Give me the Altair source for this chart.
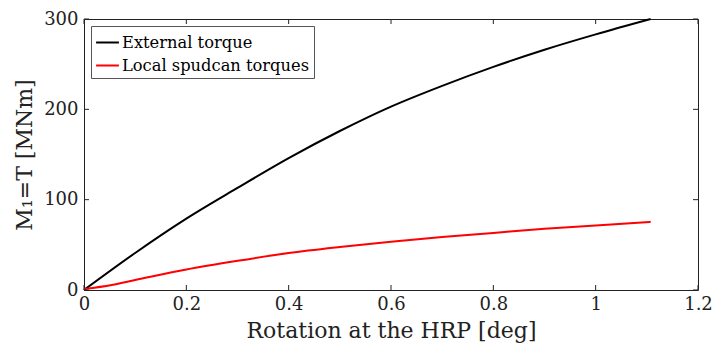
import altair as alt
import pandas as pd

ext_rotation = [0, 0.1, 0.2, 0.3, 0.4, 0.5, 0.6, 0.7, 0.8, 0.9, 1.0, 1.1075]
ext_torque = [0, 41, 79, 113, 146, 176, 203, 226, 247, 266, 283, 300]
loc_rotation = [0, 0.054, 0.1, 0.2, 0.3, 0.4, 0.5, 0.6, 0.7, 0.8, 0.9, 1.0, 1.1075]
loc_torque = [1, 5.6, 11, 22.7, 32.3, 40.9, 47.6, 53.5, 58.7, 63.2, 67.7, 71.4, 75.5]
series_names = ["External torque", "Local spudcan torques"]
series_colors = ["#000000", "#ff0000"]
x_ticks = [0, 0.2, 0.4, 0.6, 0.8, 1.0, 1.2]
y_ticks = [0, 100, 200, 300]

df = pd.DataFrame({
    "rot": ext_rotation + loc_rotation,
    "M": ext_torque + loc_torque,
    "series": [series_names[0]] * len(ext_rotation) + [series_names[1]] * len(loc_rotation),
})
xt = pd.DataFrame({"rot": x_ticks})
yt = pd.DataFrame({"M": y_ticks})

FONT = "DejaVu Serif, Liberation Serif, serif"
xscale = alt.Scale(domain=[0, 1.2], nice=False, zero=False)
yscale = alt.Scale(domain=[0, 300], nice=False)
W, H = 614, 271
TICK = 5
AX = "#222"

x_axis = alt.Axis(
    values=x_ticks, ticks=False, domain=False, grid=False, format="~g", labelFlush=False,
    labelOverlap=False, title="Rotation at the HRP [deg]", labelFont=FONT, labelFontSize=18,
    labelColor=AX, labelPadding=5, titleFont=FONT, titleFontSize=22,
    titleFontWeight="normal", titleColor=AX, titleY=40, titleBaseline="middle")
y_axis = alt.Axis(
    values=y_ticks, ticks=False, domain=False, grid=False, labelFlush=False, labelOverlap=False,
    title="M₁=T [MNm]", labelFont=FONT, labelFontSize=18, labelColor=AX,
    labelPadding=6, titleFont=FONT, titleFontSize=22, titleFontWeight="normal",
    titleColor=AX, titleX=-60, titleY=H / 2, titleBaseline="middle", titleAlign="center")

main = alt.Chart(df).mark_line(strokeWidth=2, interpolate="monotone").encode(
    x=alt.X("rot:Q", scale=xscale, axis=x_axis),
    y=alt.Y("M:Q", scale=yscale, axis=y_axis),
    color=alt.Color("series:N", scale=alt.Scale(domain=series_names, range=series_colors),
                    legend=alt.Legend(orient="none", legendX=7, legendY=7, title=None,
                                      symbolType="stroke", symbolStrokeWidth=2, symbolSize=520,
                                      labelFont=FONT, labelFontSize=16.3, labelColor="#000",
                                      labelLimit=400, strokeColor="#555", fillColor="white",
                                      padding=4, rowPadding=2, labelOffset=2)),
)

xticks_bottom = alt.Chart(xt).mark_rule(color=AX, strokeWidth=1).encode(
    x=alt.X("rot:Q", scale=xscale, axis=x_axis), y=alt.value(H), y2=alt.value(H - TICK))
xticks_top = alt.Chart(xt).mark_rule(color=AX, strokeWidth=1).encode(
    x=alt.X("rot:Q", scale=xscale, axis=x_axis), y=alt.value(0), y2=alt.value(TICK))
yticks_left = alt.Chart(yt).mark_rule(color=AX, strokeWidth=1).encode(
    y=alt.Y("M:Q", scale=yscale, axis=y_axis), x=alt.value(0), x2=alt.value(TICK))
yticks_right = alt.Chart(yt).mark_rule(color=AX, strokeWidth=1).encode(
    y=alt.Y("M:Q", scale=yscale, axis=y_axis), x=alt.value(W), x2=alt.value(W - TICK))

chart = alt.layer(main, xticks_bottom, xticks_top, yticks_left, yticks_right).properties(
    width=W, height=H,
    autosize=alt.AutoSizeParams(type="none"),
    padding={"left": 84, "top": 19, "right": 14, "bottom": 57},
    background="white",
).configure_view(stroke=AX, strokeWidth=1)

chart.save("out.html", embed_options={"renderer": "svg", "actions": False})
